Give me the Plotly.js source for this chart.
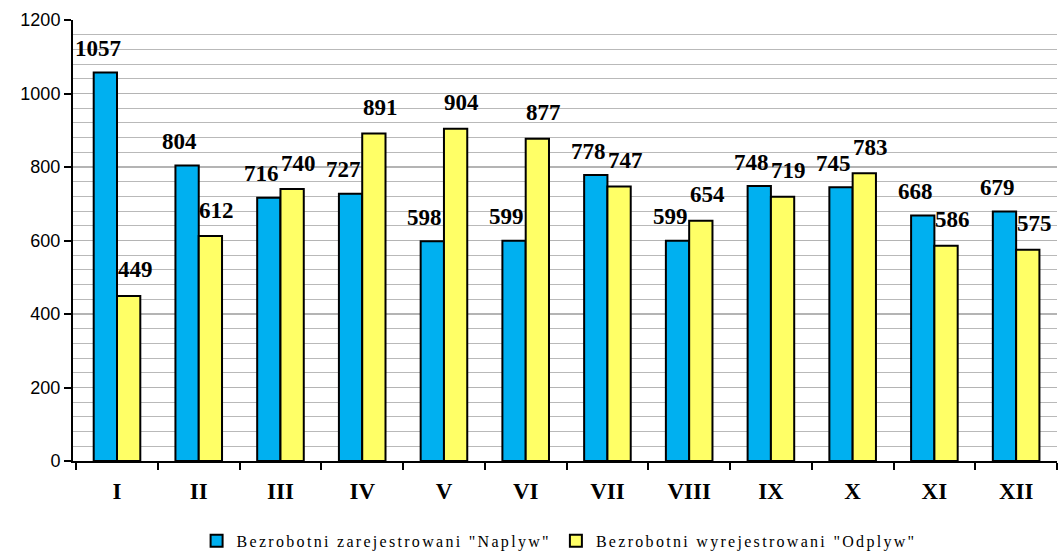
<!DOCTYPE html>
<html>
<head>
<meta charset="utf-8">
<script src="https://cdn.plot.ly/plotly-3.0.1.min.js"></script>
<style>
  html, body { margin: 0; padding: 0; background: #fff; }
  #chart { width: 1062px; height: 554px; }
  .legendtext { letter-spacing: 2.3px; }
</style>
</head>
<body>
<div id="chart"></div>
<script>
const months = ["I", "II", "III", "IV", "V", "VI", "VII", "VIII", "IX", "X", "XI", "XII"];
const inflow = [1057, 804, 716, 727, 598, 599, 778, 599, 748, 745, 668, 679];
const outflow = [449, 612, 740, 891, 904, 877, 747, 654, 719, 783, 586, 575];
const inflowName = 'Bezrobotni zarejestrowani "Naplyw"';
const outflowName = 'Bezrobotni wyrejestrowani "Odplyw"';

const traces = [
  {
    type: "bar", x: months, y: inflow, name: inflowName,
    marker: { color: "#00B0F0", line: { color: "#000", width: 2 } },
    hoverinfo: "y"
  },
  {
    type: "bar", x: months, y: outflow, name: outflowName,
    marker: { color: "#FFFF66", line: { color: "#000", width: 2 } },
    hoverinfo: "y"
  }
];

const labelFont = { family: "Liberation Serif, Times New Roman, serif", size: 23, color: "#000", weight: 700 };
const annotations = [];
months.forEach((m, i) => {
  annotations.push({ x: m, y: inflow[i], text: String(inflow[i]), showarrow: false,
    xref: "x", yref: "y", xshift: -19, yshift: 24, yanchor: "middle", font: labelFont });
  annotations.push({ x: m, y: outflow[i], text: String(outflow[i]), showarrow: false,
    xref: "x", yref: "y", xshift: 18, yshift: 26, yanchor: "middle", font: labelFont });
});

const layout = {
  width: 1062, height: 554,
  margin: { l: 73, r: 5, t: 20, b: 93, autoexpand: false },
  paper_bgcolor: "#fff", plot_bgcolor: "#fff",
  barmode: "group", bargap: 0.43, bargroupgap: 0,
  showlegend: true,
  legend: {
    orientation: "h", x: 0.494, xanchor: "center", y: -0.181, yanchor: "middle",
    font: { family: "Liberation Serif, Times New Roman, serif", size: 16, color: "#000" },
    itemwidth: 30, tracegroupgap: 0
  },
  xaxis: {
    type: "category",
    showline: true, linecolor: "#000", linewidth: 2,
    ticks: "outside", tickson: "boundaries", ticklen: 7, tickcolor: "#000", tickwidth: 2,
    ticklabelstandoff: 8,
    tickfont: { family: "Liberation Serif, Times New Roman, serif", size: 23, color: "#000", weight: 700 },
    showgrid: false, zeroline: false
  },
  yaxis: {
    range: [0, 1200], dtick: 200, tick0: 0,
    showline: true, linecolor: "#000", linewidth: 2,
    ticks: "outside", ticklen: 7, tickcolor: "#000", tickwidth: 2,
    tickfont: { family: "Liberation Sans, Arial, sans-serif", size: 18, color: "#000" },
    showgrid: true, gridcolor: "#b4b4b4", gridwidth: 1.5,
    minor: { dtick: 40, showgrid: true, gridcolor: "#b9b9b9", gridwidth: 1 },
    zeroline: false
  },
  annotations: annotations
};

Plotly.newPlot("chart", traces, layout, { displayModeBar: false, staticPlot: true });
</script>
</body>
</html>
